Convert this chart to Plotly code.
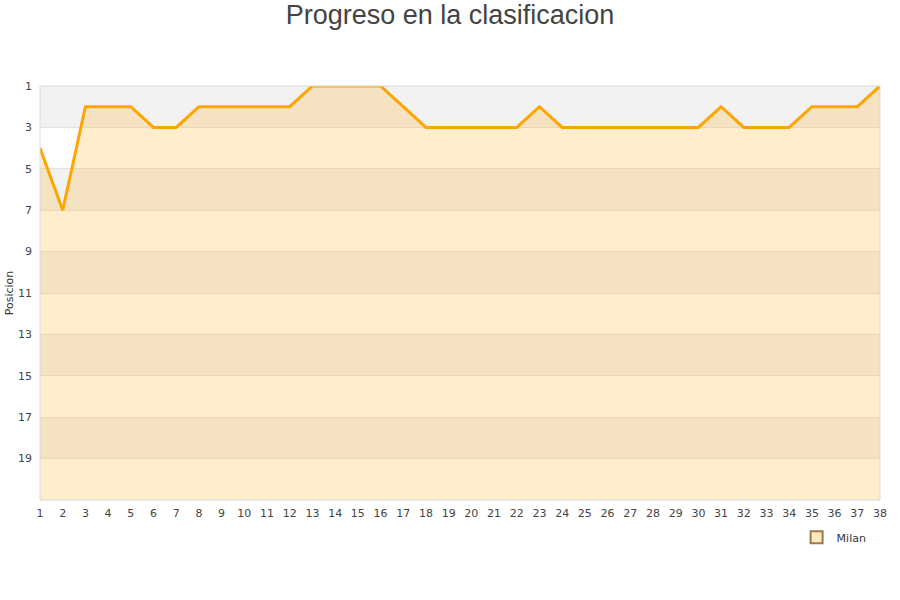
import plotly.graph_objects as go

jornadas = list(range(1, 39))
posiciones = [4, 7, 2, 2, 2, 3, 3, 2, 2, 2, 2, 2, 1, 1, 1, 1, 2, 3, 3, 3,
              3, 3, 2, 3, 3, 3, 3, 3, 3, 3, 2, 3, 3, 3, 2, 2, 2, 1]
equipo = "Milan"
y_ticks = [1, 3, 5, 7, 9, 11, 13, 15, 17, 19]
fondo_max = 21
bandas = [(1, 3), (5, 7), (9, 11), (13, 15), (17, 19)]

fig = go.Figure()
fig.add_trace(go.Scatter(x=jornadas, y=[fondo_max] * len(jornadas), mode="lines",
                         line=dict(width=0), hoverinfo="skip", showlegend=False))
fig.add_trace(go.Scatter(x=jornadas, y=posiciones, mode="lines", fill="tonexty",
                         fillcolor="rgba(255,165,0,0.2)",
                         line=dict(color="#ffa500", width=3), showlegend=False))
fig.add_trace(go.Scatter(x=[None], y=[None], mode="markers", name=equipo,
                         marker=dict(symbol="square", size=7, color="#fde9c3",
                                     line=dict(color="#a0784a", width=1))))

shapes = []
for a, b in bandas:
    shapes.append(dict(type="rect", xref="paper", yref="y", x0=0, x1=1, y0=a, y1=b,
                       fillcolor="#f2f2f2", line=dict(width=0), layer="below"))
shapes.append(dict(type="rect", xref="paper", yref="paper", x0=0, x1=1, y0=0, y1=1,
                   line=dict(color="#d9d9d9", width=1), layer="above"))

fig.update_layout(
    width=900, height=600,
    margin=dict(l=40, r=20, t=86, b=100),
    paper_bgcolor="white", plot_bgcolor="white",
    title=dict(text="Progreso en la clasificacion", x=0.5, xanchor="center", y=0.975, yanchor="middle",
               font=dict(family="Liberation Sans, Arial", size=27, color="#444444")),
    font=dict(family="DejaVu Sans", size=11, color="#444444"),
    shapes=shapes,
    xaxis=dict(range=[1, 38], tickmode="array", tickvals=jornadas, ticktext=[str(j) for j in jornadas],
               showgrid=False, zeroline=False, showline=False, ticks="", automargin=False,
               ticklabelstandoff=5,
               tickfont=dict(size=11, color="#444444")),
    yaxis=dict(range=[fondo_max, 1], tickmode="array", tickvals=y_ticks, automargin=False,
               showgrid=True, gridcolor="#e3e3e3", zeroline=False, showline=False, ticks="",
               ticklabelstandoff=7,
               tickfont=dict(size=11, color="#444444"),
               title=dict(text="Posicion", font=dict(size=11, color="#333333"), standoff=2)),
    legend=dict(x=0.99, y=-0.055, xanchor="right", yanchor="top", bgcolor="rgba(0,0,0,0)",
                font=dict(size=11, color="#333333"), itemsizing="constant"),
    showlegend=True,
)

fig.write_html("out.html", config={"displayModeBar": False},
               post_script="document.body.style.margin='0';")
